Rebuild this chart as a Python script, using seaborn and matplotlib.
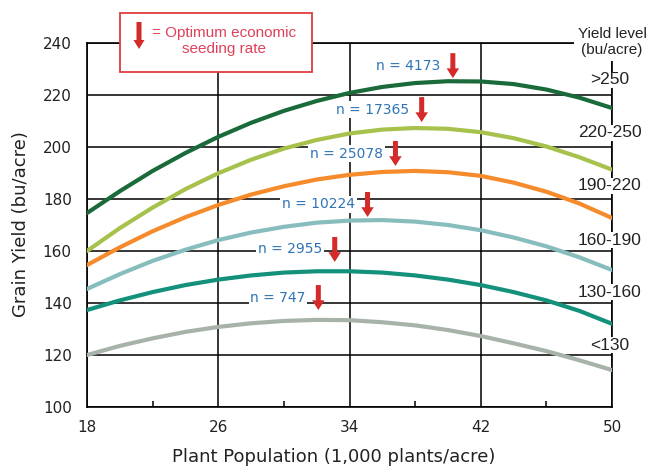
import numpy as np
import pandas as pd
import matplotlib
matplotlib.use("Agg")
import matplotlib.pyplot as plt
import seaborn as sns
from matplotlib.patches import Rectangle

# ---------------- data ----------------
population = [18, 20, 22, 24, 26, 28, 30, 32, 34, 36, 38, 40, 42, 44, 46, 48, 50]
levels = [">250", "220-250", "190-220", "160-190", "130-160", "<130"]
yield_gt250 = [174.6, 183.0, 190.8, 197.7, 203.9, 209.3, 213.9, 217.7, 220.8, 223.1,
               224.6, 225.3, 225.2, 224.2, 222.1, 219.0, 215.0]
yield_220_250 = [160.0, 168.8, 176.7, 183.8, 189.9, 195.1, 199.4, 202.7, 205.2, 206.7,
                 207.3, 207.0, 205.7, 203.4, 200.2, 196.1, 191.3]
yield_190_220 = [154.6, 161.4, 167.6, 173.0, 177.7, 181.7, 184.9, 187.5, 189.3, 190.4,
                 190.8, 190.3, 188.9, 186.3, 182.8, 178.3, 172.7]
yield_160_190 = [145.4, 151.1, 156.2, 160.5, 164.2, 167.1, 169.3, 170.9, 171.7, 171.9,
                 171.3, 170.0, 168.0, 165.2, 161.8, 157.6, 152.7]
yield_130_160 = [137.3, 141.0, 144.2, 146.9, 149.0, 150.6, 151.7, 152.2, 152.2, 151.7,
                 150.6, 149.0, 146.9, 144.2, 141.0, 137.0, 132.0]
yield_lt130 = [120.0, 123.5, 126.4, 128.9, 130.8, 132.2, 133.1, 133.5, 133.4, 132.6,
               131.4, 129.6, 127.3, 124.5, 121.5, 118.0, 114.2]
series = [yield_gt250, yield_220_250, yield_190_220, yield_160_190, yield_130_160, yield_lt130]

n_labels = ["n = 4173", "n = 17365", "n = 25078", "n = 10224", "n = 2955", "n = 747"]
optimum_rate = [40.3, 38.4, 36.8, 35.1, 33.1, 32.1]
arrow_tip = [226.5, 209.6, 192.7, 173.1, 155.8, 137.3]

x_ticks = [18, 26, 34, 42, 50]
x_minor = [22, 30, 38, 46]
y_ticks = [100, 120, 140, 160, 180, 200, 220, 240]

# ---------------- layout / style ----------------
colors = {">250": "#1b6b3a", "220-250": "#a6c24c", "190-220": "#f68b2c",
          "160-190": "#88bdbe", "130-160": "#13917b", "<130": "#a7b3a9"}
level_label_y = [225.8, 205.4, 185.0, 164.2, 144.2, 123.8]
arrow_len = 9.6
red = "#d42a2a"
blue = "#2f74b5"

sns.set_theme(style="white")
plt.rcParams["font.family"] = ["DejaVu Sans"]

df = pd.DataFrame({
    "population": population * len(levels),
    "yield": sum(series, []),
    "level": np.repeat(levels, len(population)),
})

fig = plt.figure(figsize=(6.5, 4.66), dpi=100)
ax = fig.add_axes([87 / 650, 1 - 407 / 466, 525 / 650, 364 / 466])

sns.lineplot(data=df, x="population", y="yield", hue="level", hue_order=levels,
             palette=colors, linewidth=3.0, legend=False, sort=False, ax=ax,
             zorder=3)

ax.set_xlim(18, 50)
ax.set_ylim(100, 240)
ax.set_xticks(x_ticks)
ax.set_xticks(x_minor, minor=True)
ax.set_yticks(y_ticks)
ax.grid(True, which="major", color="black", linewidth=1.1, zorder=1)
ax.set_axisbelow(True)
for s in ax.spines.values():
    s.set_color("black")
    s.set_linewidth(1.2)
ax.tick_params(axis="both", which="major", direction="out", length=4, width=1.1,
               color="black", labelsize=11, labelcolor="#222222", pad=5)
ax.tick_params(axis="x", which="minor", direction="in", length=4, width=1.1,
               color="black", bottom=True)
ax.tick_params(axis="y", which="major", pad=7)

ax.set_xlabel("Plant Population (1,000 plants/acre)", fontsize=13, color="#222222")
ax.set_ylabel("Grain Yield (bu/acre)", fontsize=13, color="#222222")
ax.xaxis.set_label_coords(0.47, -0.113)
ax.yaxis.set_label_coords(-0.108, 0.503)

# optimum arrows and n labels
for lab, xo, tip in zip(n_labels, optimum_rate, arrow_tip):
    ax.annotate("", xy=(xo, tip), xytext=(xo, tip + arrow_len),
                arrowprops=dict(facecolor=red, edgecolor="none", width=3.6,
                                headwidth=9, headlength=7, shrink=0),
                zorder=6)
    ax.annotate(lab, xy=(xo, tip + arrow_len * 0.5), xytext=(-9, 0),
                textcoords="offset points", ha="right", va="center",
                fontsize=10, color=blue, zorder=5,
                bbox=dict(boxstyle="square,pad=0.12", fc="white", ec="none"))

# yield level labels on the right
for lab, ly in zip(levels, level_label_y):
    ax.text(49.85, ly, lab, ha="center", va="center", fontsize=12.5,
            family="Liberation Sans", color="#222222", zorder=5, clip_on=False,
            bbox=dict(boxstyle="square,pad=0.05", fc="white", ec="none"))
fig.text(612 / 650, 1 - 42 / 466, "Yield level\n(bu/acre)", ha="center", va="center",
         fontsize=11, family="Liberation Sans", color="#222222", linespacing=1.15,
         zorder=5, bbox=dict(boxstyle="square,pad=0.25", fc="white", ec="none"))

# key box
fig.add_artist(Rectangle((120 / 650, 1 - 72 / 466), 192 / 650, 59 / 466,
                         transform=fig.transFigure, fc="white", ec="#e03c3c",
                         lw=1.3, zorder=5))
fig.add_artist(matplotlib.patches.FancyArrow(139 / 650, 1 - 22 / 466, 0, -27 / 466,
                                             width=5 / 650, head_width=11 / 650,
                                             head_length=9 / 466,
                                             length_includes_head=True,
                                             transform=fig.transFigure, fc=red,
                                             ec="none", zorder=6))
fig.text(224 / 650, 1 - 41 / 466, "= Optimum economic\nseeding rate", ha="center",
         va="center", fontsize=11, family="Liberation Sans", color="#e0405a",
         linespacing=1.2, zorder=6)

fig.savefig("out.png", dpi=100)
